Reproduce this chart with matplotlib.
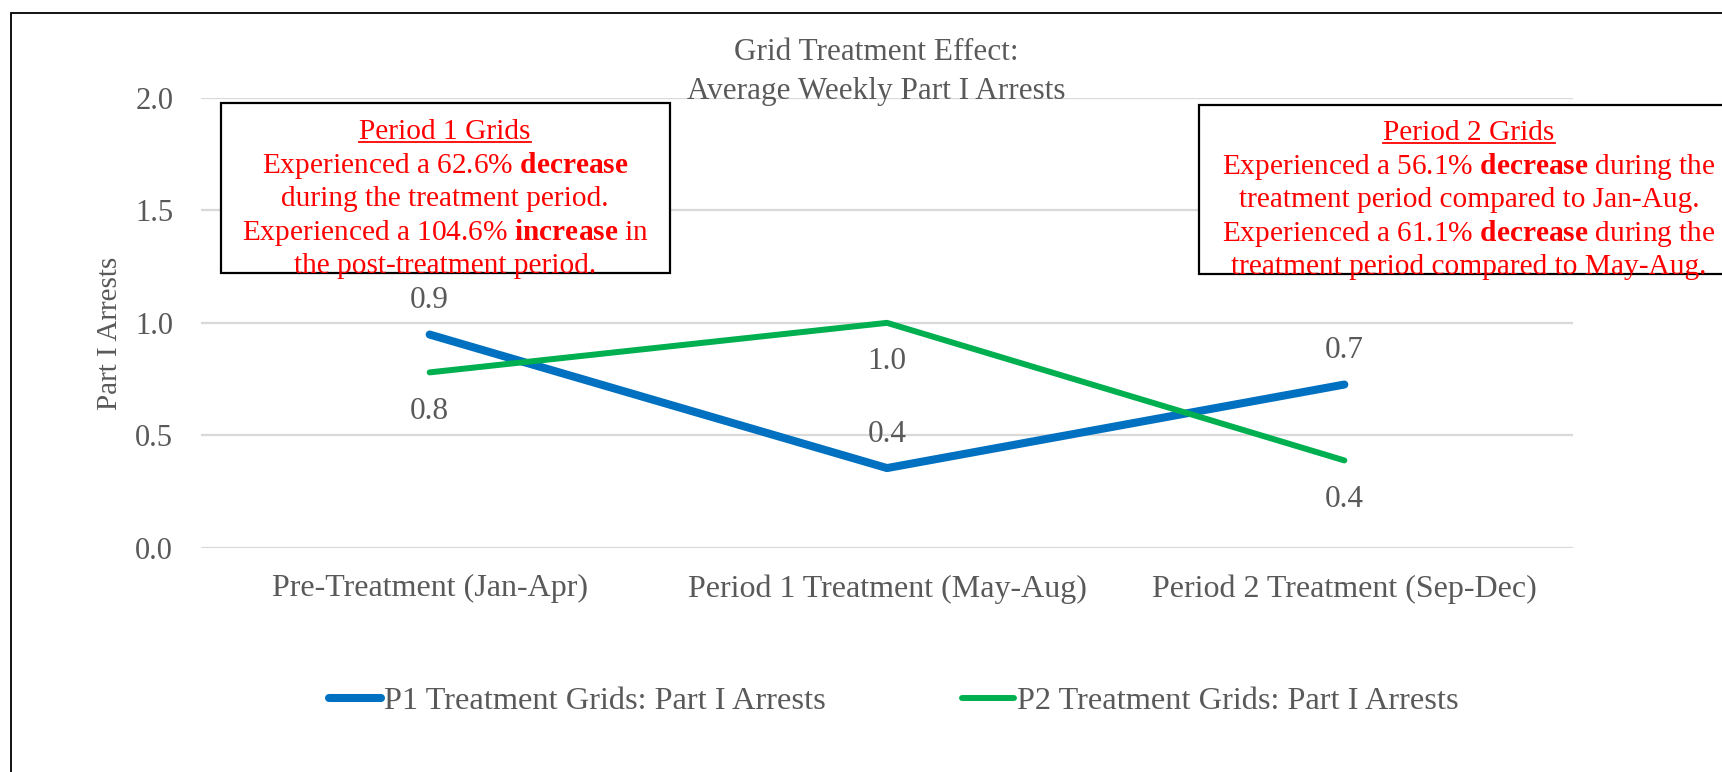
import numpy as np
import matplotlib
matplotlib.use("Agg")
import matplotlib.pyplot as plt
from matplotlib.patches import Rectangle
from matplotlib.lines import Line2D

plt.rcParams['font.family'] = ['Liberation Serif', 'DejaVu Serif']
plt.rcParams['mathtext.fontset'] = 'custom'
plt.rcParams['mathtext.rm'] = 'Liberation Serif'
plt.rcParams['mathtext.bf'] = 'Liberation Serif:bold'

# data
categories = ['Pre-Treatment (Jan-Apr)', 'Period 1 Treatment (May-Aug)', 'Period 2 Treatment (Sep-Dec)']
p1_arrests = [0.948, 0.355, 0.726]
p2_arrests = [0.78, 1.0, 0.389]
series_names = ['P1 Treatment Grids: Part I Arrests', 'P2 Treatment Grids: Part I Arrests']
yticks = [0.0, 0.5, 1.0, 1.5, 2.0]

p1_note = ['Period 1 Grids',
           r'Experienced a 62.6% $\mathbf{decrease}$',
           'during the treatment period.',
           r'Experienced a 104.6% $\mathbf{increase}$ in',
           'the post-treatment period.']
p2_note = ['Period 2 Grids',
           r'Experienced a 56.1% $\mathbf{decrease}$ during the',
           'treatment period compared to Jan-Aug.',
           r'Experienced a 61.1% $\mathbf{decrease}$ during the',
           'treatment period compared to May-Aug.']

GRAY = '#595959'
BLUE = '#0070C0'
GREEN = '#00B050'
W, H = 1722, 772

fig = plt.figure(figsize=(W / 100, H / 100), dpi=100)


def fx(px):
    return px / W


def fy(py):
    return 1 - py / H


ax = fig.add_axes([fx(201), fy(548), fx(1573) - fx(201), fy(97.7) - fy(548)])

x = np.arange(len(categories))
ax.plot(x, p1_arrests, color=BLUE, lw=5.8, solid_capstyle='round', zorder=3)
ax.plot(x, p2_arrests, color=GREEN, lw=4.3, solid_capstyle='round', zorder=3)

# data labels: blue above, green below
for xi, v in zip(x, p1_arrests):
    ax.annotate(f'{v:.1f}', (xi, v), xytext=(0, 24.5), textcoords='offset points',
                ha='center', va='center', fontsize=22.5, color=GRAY)
for xi, v in zip(x, p2_arrests):
    ax.annotate(f'{v:.1f}', (xi, v), xytext=(0, -28), textcoords='offset points',
                ha='center', va='center', fontsize=22.5, color=GRAY)

ax.set_xlim(-0.5, len(categories) - 0.5)
ax.set_ylim(0, 2)
ax.set_yticks(yticks)
ax.set_yticklabels([f'{t:.1f}' for t in yticks])
ax.set_xticks(x)
ax.set_xticklabels(categories)
ax.tick_params(axis='both', length=0, labelcolor=GRAY)
ax.tick_params(axis='y', pad=20, labelsize=22)
ax.tick_params(axis='x', pad=19, labelsize=23)
ax.grid(axis='y', color='#D9D9D9', lw=1.6)
ax.set_axisbelow(True)
for s in ax.spines.values():
    s.set_visible(False)
fig.text(fx(110), fy(333), 'Part I Arrests', rotation=90, ha='center', va='center',
         fontsize=21, color=GRAY)

# title
fig.text(fx(876), fy(53), 'Grid Treatment Effect:', ha='center', va='center', fontsize=22.5, color=GRAY)
fig.text(fx(876), fy(92), 'Average Weekly Part I Arrests', ha='center', va='center', fontsize=22.5, color=GRAY)

# outer chart border (runs off the right and bottom)
fig.patches.append(Rectangle((fx(11), -0.2), 2, fy(13) + 0.2, transform=fig.transFigure,
                             fill=False, ec='black', lw=1.3))

# annotation boxes
fig.patches.append(Rectangle((fx(221), fy(273)), fx(670) - fx(221), fy(103) - fy(273),
                             transform=fig.transFigure, fill=True, fc='white', ec='black', lw=1.6, zorder=4))
fig.patches.append(Rectangle((fx(1199), fy(274)), 1, fy(105) - fy(274),
                             transform=fig.transFigure, fill=True, fc='white', ec='black', lw=1.6, zorder=4))

heads = []
for lines, cx, y0 in [(p1_note, 445, 132), (p2_note, 1469, 133)]:
    for i, line in enumerate(lines):
        t = fig.text(fx(cx), fy(y0 + i * 33.4), line, ha='center', va='center',
                     fontsize=21.2, color='red', zorder=5)
        if i == 0:
            heads.append(t)

fig.canvas.draw()
renderer = fig.canvas.get_renderer()
for t in heads:
    bb = t.get_window_extent(renderer)
    yy = bb.y0 + 3
    fig.lines.append(Line2D([bb.x0 / W, bb.x1 / W], [yy / H, yy / H], transform=fig.transFigure,
                            color='red', lw=1.3, zorder=5))

# legend
handles = [Line2D([], [], color=BLUE, lw=5.8, solid_capstyle='round'),
           Line2D([], [], color=GREEN, lw=4.3, solid_capstyle='round')]
leg = fig.legend(handles, series_names, loc='center', bbox_to_anchor=(fx(894), fy(701)), ncol=2,
                 frameon=False, fontsize=23.3, handlelength=1.6, handletextpad=0.1,
                 columnspacing=4.2, labelcolor=GRAY)

fig.savefig('out.png', dpi=100, facecolor='white')
